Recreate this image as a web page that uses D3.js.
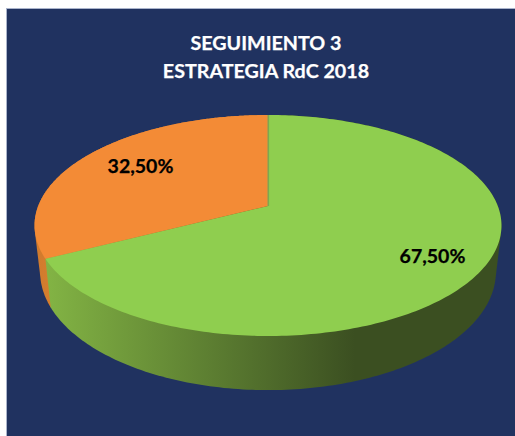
<!DOCTYPE html>
<html><head><meta charset="utf-8">
<script src="https://cdn.jsdelivr.net/npm/d3@7/dist/d3.min.js"></script>
<style>html,body{margin:0;padding:0;background:#fff;}svg{display:block;}</style>
</head><body><div id="c"></div>
<script>
const categories = ["No cumplido", "Cumplido"];
const values = [32.5, 67.5];
const sliceLabels = ["32,50%", "67,50%"];
const titleLines = ["SEGUIMIENTO 3", "ESTRATEGIA RdC 2018"];
const colors = ["#f38b36", "#8fce4f"];
const sideColors = [["#cf7a2d","#d9802f"], ["#82b344","#3b4f21"]];

const W = 515, H = 436;
const svg = d3.select("#c").append("svg").attr("width", W).attr("height", H);
svg.append("rect").attr("width", W).attr("height", H).attr("fill", "#fff");
svg.append("rect").attr("x", 6.5).attr("y", 8.5).attr("width", W).attr("height", H)
  .attr("fill", "#203260").attr("stroke", "#aab4cc").attr("stroke-width", 1);

const defs = svg.append("defs");
const g1 = defs.append("linearGradient").attr("id", "side1").attr("gradientUnits", "userSpaceOnUse")
  .attr("x1", 48).attr("x2", 355).attr("y1", 0).attr("y2", 0);
g1.append("stop").attr("offset", 0).attr("stop-color", sideColors[1][0]);
g1.append("stop").attr("offset", 1).attr("stop-color", sideColors[1][1]);
const g0 = defs.append("linearGradient").attr("id", "side0").attr("gradientUnits", "userSpaceOnUse")
  .attr("x1", 34).attr("x2", 60).attr("y1", 0).attr("y2", 0);
g0.append("stop").attr("offset", 0).attr("stop-color", sideColors[0][0]);
g0.append("stop").attr("offset", 1).attr("stop-color", sideColors[0][1]);

// perspective mapping of the pie disc onto the page
const cx = 268, cy = 206, A = 229.8, B = 107.06, k = 0.1765;
const rim = (a, fx = 1, fy = 1, dy = 0) => {
  const u = Math.sin(a), v = Math.cos(a), s = 1 / (1 + k * v);
  return [cx + A * u * s * fx, cy + dy - B * v * s * fy];
};
const lower = a => rim(a, 0.976, 1.07, 45);

const pie = d3.pie().sort(null).value(d => d.v).startAngle(0).endAngle(2 * Math.PI);
const arcs = pie([{v: values[1], i: 1}, {v: values[0], i: 0}]);
const line = d3.line();
const sweep = d => d3.range(0, 241).map(t => d.startAngle + (d.endAngle - d.startAngle) * t / 240);

// side wall: hull of both rims so the silhouette runs straight between them
arcs.slice().reverse().forEach(d => {
  const as = sweep(d);
  const pts = d3.polygonHull(as.map(a => rim(a)).concat(as.map(lower)));
  svg.append("path").attr("d", line(pts) + "Z").attr("fill", `url(#side${d.data.i})`);
});
// top surface
arcs.forEach(d => {
  const pts = [[cx, cy]].concat(sweep(d).map(a => rim(a)));
  svg.append("path").attr("d", line(pts) + "Z").attr("fill", colors[d.data.i]);
});
// divider at 12 o'clock
svg.append("line").attr("x1", cx + 0.3).attr("x2", cx + 0.3).attr("y1", rim(0)[1]).attr("y2", cy)
  .attr("stroke", "#7ea650").attr("stroke-width", 1.6);

const font = "Lato, 'Open Sans', sans-serif";
svg.selectAll("text.t").data(titleLines).join("text").attr("class", "t")
  .attr("x", 266).attr("y", (d, i) => 50 + i * 28)
  .attr("text-anchor", "middle").attr("font-family", font).attr("font-weight", 700)
  .attr("font-size", 19.7).attr("fill", "#fff").attr("stroke", "#fff").attr("stroke-width", 0.25).text(d => d);

svg.selectAll("text.l").data(sliceLabels).join("text").attr("class", "l")
  .attr("x", (d, i) => [140.5, 432.5][i]).attr("y", (d, i) => [172.5, 262.5][i])
  .attr("text-anchor", "middle").attr("font-family", font).attr("font-weight", 700)
  .attr("font-size", 19.5).attr("fill", "#000").attr("stroke", "#000").attr("stroke-width", 0.25).text(d => d);
</script></body></html>
